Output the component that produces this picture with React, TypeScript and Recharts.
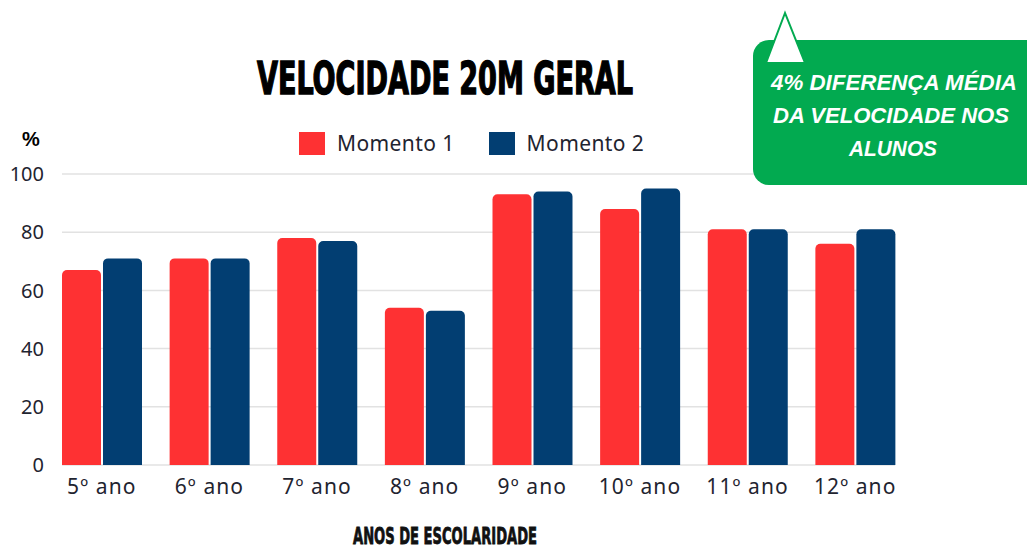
import { BarChart, Bar, XAxis, YAxis, CartesianGrid, Legend } from 'recharts';

const categories = ['5º ano', '6º ano', '7º ano', '8º ano', '9º ano', '10º ano', '11º ano', '12º ano'];
const momento1 = [67, 71, 78, 54, 93, 88, 81, 76];
const momento2 = [71, 71, 77, 53, 94, 95, 81, 81];
const yTicks = [0, 20, 40, 60, 80, 100];

const RED = '#fe3133';
const NAVY = '#023e72';
const GREEN = '#02aa50';
const TEXT = '#1f2430';
const HEAVY = "'DejaVu Sans Condensed', 'DejaVu Sans', sans-serif";

const data = categories.map((ano, i) => ({ ano, m1: momento1[i], m2: momento2[i] }));

const renderLegend = (props: any) => {
  const items = props.payload || [];
  return (
    <div style={{ display: 'flex', alignItems: 'center', fontFamily: 'Noto Sans', fontSize: 21, letterSpacing: 0.4, color: TEXT }}>
      {items.map((it: any, i: number) => (
        <div key={i} style={{ display: 'flex', alignItems: 'center', marginRight: 34 }}>
          <span style={{ display: 'inline-block', width: 26, height: 23, background: it.color, marginRight: 12 }} />
          <span>{it.value}</span>
        </div>
      ))}
    </div>
  );
};

export default function App() {
  return (
    <div style={{ position: 'absolute', left: 0, top: 0, width: 1027, height: 545, background: '#fff', overflow: 'hidden' }}>
      <BarChart
        width={1027}
        height={545}
        data={data}
        margin={{ top: 174, right: 132, bottom: 40, left: 0 }}
        barSize={39}
        barGap={2}
      >
        <CartesianGrid vertical={false} stroke="#e2e2e2" strokeWidth={1.5} />
        <XAxis
          dataKey="ano"
          padding={{ left: -14, right: -14 }}
          axisLine={false}
          tickLine={false}
          tickSize={0}
          tickMargin={14}
          height={40}
          interval={0}
          tick={{ fill: TEXT, fontSize: 21, fontFamily: 'Noto Sans', letterSpacing: 1.1 }}
        />
        <YAxis
          domain={[0, 100]}
          ticks={yTicks}
          width={62}
          axisLine={false}
          tickLine={false}
          tickSize={0}
          tickMargin={18}
          tick={{ fill: TEXT, fontSize: 20, fontFamily: 'Noto Sans' }}
        />
        <Legend
          verticalAlign="middle"
          align="center"
          content={renderLegend}
          wrapperStyle={{ top: 129, left: 299, width: 420, height: 26 }}
        />
        <Bar dataKey="m1" name="Momento 1" fill={RED} radius={[5, 5, 0, 0]} isAnimationActive={false} />
        <Bar dataKey="m2" name="Momento 2" fill={NAVY} radius={[5, 5, 0, 0]} isAnimationActive={false} />
      </BarChart>

      <svg width={1027} height={545} style={{ position: 'absolute', left: 0, top: 0, pointerEvents: 'none' }}>
        <text
          x={257}
          y={94}
          fontFamily={HEAVY}
          fontWeight="bold"
          fontSize={44}
          textLength={376}
          lengthAdjust="spacingAndGlyphs"
          fill="#000"
          stroke="#000"
          strokeWidth={1.4}
        >
          VELOCIDADE 20M GERAL
        </text>
        <text x={22} y={146} fontFamily="Liberation Sans" fontWeight="bold" fontSize={20} fill="#000">%</text>
        <text
          x={353}
          y={544}
          fontFamily={HEAVY}
          fontWeight="bold"
          fontSize={23}
          textLength={184}
          lengthAdjust="spacingAndGlyphs"
          fill="#111"
          stroke="#111"
          strokeWidth={0.8}
        >
          ANOS DE ESCOLARIDADE
        </text>

        <rect x={753} y={40} width={300} height={145} rx={16} fill={GREEN} />
        <polygon points="785,13 766,63 805,63" fill="#fff" stroke={GREEN} strokeWidth={2} />
        <g fontFamily="Liberation Sans" fontWeight="bold" fontStyle="italic" fontSize={22} fill="#fff">
          <text x={771} y={90} textLength={246} lengthAdjust="spacingAndGlyphs">4% DIFERENÇA MÉDIA</text>
          <text x={773} y={123} textLength={236} lengthAdjust="spacingAndGlyphs">DA VELOCIDADE NOS</text>
          <text x={849} y={156} textLength={88} lengthAdjust="spacingAndGlyphs">ALUNOS</text>
        </g>
      </svg>
    </div>
  );
}
